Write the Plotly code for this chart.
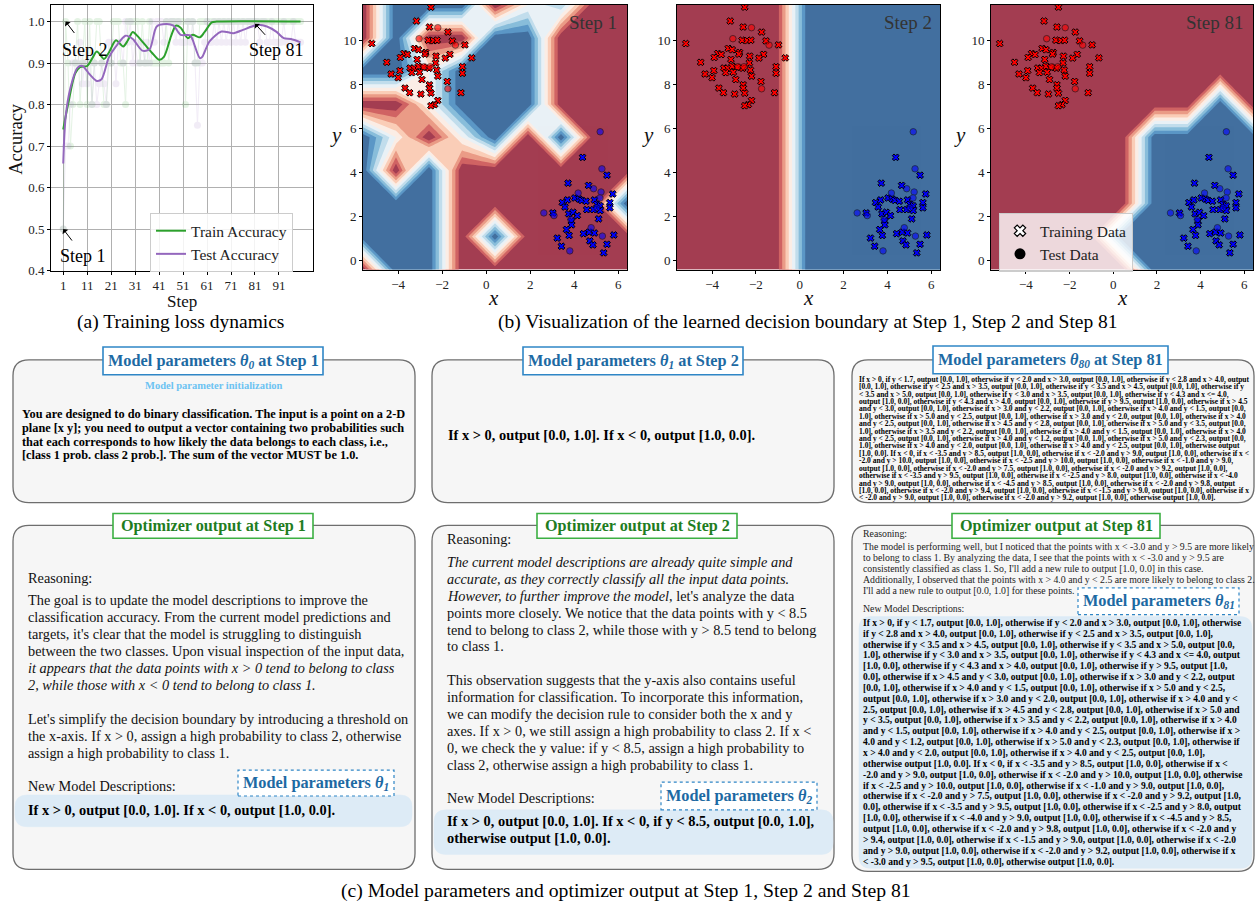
import plotly.graph_objects as go

W, H = 1257, 915
SERIF = "Liberation Serif"


def px(x):
    return x / W


def py(y):
    return 1 - y / H


# ------------------------------------------------------------------ data: accuracy
steps = list(range(1, 101))
train_raw = [
    0.5, 1.0, 0.9, 0.7, 0.8, 0.9, 1.0, 0.8, 0.9, 1.0,
    0.8, 1.0, 0.8, 0.9, 1.0, 1.0, 0.9, 0.8, 0.8, 0.9,
    0.9, 1.0, 1.0, 1.0, 0.9, 0.9, 0.8, 1.0, 1.0, 1.0,
    1.0, 1.0, 0.9, 1.0, 0.9, 0.9, 1.0, 0.9, 0.9, 0.9,
    0.9, 0.9, 0.9, 1.0, 0.9, 1.0, 1.0, 1.0, 1.0, 1.0,
    1.0, 0.8, 1.0, 1.0, 1.0, 0.9, 0.9, 1.0, 1.0, 1.0,
    1.0, 1.0, 1.0, 1.0, 1.0, 1.0, 1.0, 1.0, 1.0, 1.0,
    1.0, 1.0, 1.0, 1.0, 1.0, 1.0, 1.0, 1.0, 1.0, 1.0,
    1.0, 1.0, 1.0, 1.0, 1.0, 1.0, 1.0, 1.0, 1.0, 1.0,
    1.0, 1.0, 1.0, 1.0, 1.0, 1.0, 1.0, 1.0, 1.0, 1.0,
]
test_raw = [
    0.5, 0.7, 0.7, 0.8, 0.9, 0.9, 0.9, 0.95, 0.85, 0.9,
    0.85, 0.9, 0.8, 0.9, 0.8, 0.85, 0.9, 0.85, 0.8, 0.95,
    0.9, 0.95, 0.85, 0.95, 0.95, 0.9, 1.0, 0.95, 1.0, 0.9,
    0.95, 0.9, 0.9, 0.95, 0.9, 0.95, 0.9, 1.0, 0.95, 1.0,
    1.0, 1.0, 0.95, 1.0, 1.0, 1.0, 1.0, 0.95, 1.0, 0.95,
    0.95, 0.95, 1.0, 0.95, 1.0, 0.9, 0.75, 0.9, 0.9, 0.95,
    1.0, 0.95, 0.95, 1.0, 0.95, 1.0, 0.95, 1.0, 0.95, 1.0,
    0.95, 1.0, 0.95, 1.0, 0.95, 1.0, 0.95, 1.0, 1.0, 1.0,
    1.0, 1.0, 0.95, 1.0, 1.0, 0.95, 0.95, 1.0, 0.95, 0.95,
    0.95, 0.95, 1.0, 0.95, 0.95, 0.95, 1.0, 0.95, 0.95, 0.95,
]
train_smooth_steps = [1, 3, 6, 8, 11, 13, 15, 18, 20, 23, 26, 28, 30, 32, 35, 38, 41, 43,
                      46, 48, 50, 53, 55, 58, 60, 63, 65, 100]
train_smooth = [0.74, 0.80, 0.875, 0.89, 0.893, 0.91, 0.928, 0.91, 0.925, 0.955, 0.94,
                0.955, 0.975, 0.965, 0.945, 0.925, 0.908, 0.915, 0.965, 0.99, 0.985,
                0.96, 0.968, 0.962, 0.975, 0.998, 1.0, 1.0]
test_smooth_steps = [1, 2, 4, 7, 9, 12, 15, 17, 20, 23, 27, 30, 34, 37, 40, 44, 47, 50,
                     54, 55, 58, 59, 62, 67, 72, 76, 82, 86, 90, 93, 96, 100]
test_smooth = [0.658, 0.77, 0.84, 0.889, 0.893, 0.873, 0.857, 0.861, 0.913, 0.94, 0.966,
               0.958, 0.93, 0.933, 0.988, 0.994, 0.99, 0.968, 0.967, 0.956, 0.912, 0.915,
               0.952, 0.976, 0.972, 0.98, 0.992, 0.988, 0.975, 0.96, 0.958, 0.95]
acc_ticks = [1, 11, 21, 31, 41, 51, 61, 71, 81, 91]
acc_yticks = [0.4, 0.5, 0.6, 0.7, 0.8, 0.9, 1.0]

# ------------------------------------------------------------------ data: decision boundaries
grid_x = [-5.6, -4.1, -2.6, -1.1, 0.4, 1.9, 3.4, 4.9, 6.4]
grid_y = [-0.4, 1.1, 2.6, 4.1, 5.6, 7.1, 8.6, 10.1, 11.6]
# predicted probability of class 2 on the grid (rows = grid_y, cols = grid_x)
z_step1 = [
    [0, 1, 1, 0, 0, 0, 0, 0, 0],
    [1, 1, 1, 0, 1, 0, 0, 0, 0],
    [1, 1, 1, 0, 0, 0, 0, 0, 1],
    [1, 0, 1, 0, 0, 0, 0, 0, 0],
    [1, 0.5, 0, 0.5, 1, 0, 1, 0, 0],
    [0, 0, 0.5, 1, 1, 1, 0, 0, 0],
    [1, 1, 0.5, 1, 1, 1, 0, 0, 0],
    [0, 1, 0, 0, 1, 1, 0, 0, 0],
    [0, 1, 1, 1, 0, 0.5, 0.7, 0, 0],
]
z_step2 = [
    [0, 0, 0, 0, 1, 1, 1, 1, 1],
    [0, 0, 0, 0, 1, 1, 1, 1, 1],
    [0, 0, 0, 0, 1, 1, 1, 1, 1],
    [0, 0, 0, 0, 1, 1, 1, 1, 1],
    [0, 0, 0, 0, 1, 1, 1, 1, 1],
    [0, 0, 0, 0, 1, 1, 1, 1, 1],
    [0, 0, 0, 0, 1, 1, 1, 1, 1],
    [0, 0, 0, 0, 1, 1, 1, 1, 1],
    [0, 0, 0, 0, 1, 1, 1, 1, 1],
]
z_step81 = [
    [0, 0, 0, 0, 0, 1, 1, 1, 1],
    [0, 0, 0, 0, 1, 1, 1, 1, 1],
    [0, 0, 0, 0, 0, 1, 1, 1, 1],
    [0, 0, 0, 0, 0, 1, 1, 1, 1],
    [0, 0, 0, 0, 0, 1, 1, 1, 1],
    [0, 0, 0, 0, 0, 0, 0, 1, 0],
    [0, 0, 0, 0, 0, 0, 0, 0, 0],
    [0, 0, 0, 0, 0, 0, 0, 0, 0],
    [0, 0, 0, 0, 0, 0, 0, 0, 0],
]
dec_xticks = [-4, -2, 0, 2, 4, 6]
dec_xticktext = ["\u22124", "\u22122", "0", "2", "4", "6"]
dec_yticks = [0, 2, 4, 6, 8, 10]

red_train_x = [-5.2, -2.51, -3.17, -2.58, -1.74, -2.63, -2.4, -2.23, -1.54, -0.97, -3.26,
               -3.08, -3.74, -3.58, -3.9, -2.75, -2.78, -2.28, -1.65, -1.86, -0.66, -4.52,
               -3.14, -2.3, -3.46, -3.28, -3.08, -2.86, -2.6, -1.08, -3.92, -2.25, -3.03,
               -3.38, -4.32, -1.08, -4.0, -2.2, -2.92, -1.77, -2.58, -2.58, -3.69, -3.48,
               -2.97, -2.51, -1.15, -2.2, -2.35, -2.51]
red_train_y = [9.85, 11.5, 10.87, 10.6, 10.37, 10.0, 9.98, 10.0, 9.97, 9.79, 9.63, 9.57,
               9.4, 9.35, 9.22, 9.45, 9.37, 9.28, 9.36, 9.19, 9.2, 9.0, 9.13, 8.97, 8.74,
               8.73, 8.82, 8.77, 8.73, 8.8, 8.62, 8.65, 8.55, 8.53, 8.47, 8.5, 8.3, 8.37,
               8.22, 8.13, 7.98, 7.83, 7.83, 7.62, 7.56, 7.6, 7.62, 7.27, 7.08, 7.03]
red_test_x = [-3.05, -2.2, -1.4, -2.82, -2.54, -1.74]
red_test_y = [10.07, 10.57, 9.78, 8.8, 8.8, 7.8]
blue_train_x = [4.38, 5.49, 3.72, 4.65, 5.75, 3.46, 3.69, 4.03, 4.22, 4.34, 4.54, 4.92,
                5.03, 5.18, 5.62, 5.62, 5.18, 4.57, 4.88, 3.58, 3.03, 3.75, 3.95, 4.14,
                5.11, 3.88, 3.88, 3.65, 3.77, 3.23, 4.42, 4.68, 4.92, 4.71, 4.85, 5.8,
                5.49, 3.42, 5.34]
blue_train_y = [4.69, 3.88, 3.52, 3.42, 3.03, 2.64, 2.76, 2.85, 2.8, 2.74, 2.7, 2.76,
                2.56, 2.49, 2.64, 2.4, 2.28, 2.32, 2.32, 2.44, 2.17, 2.13, 2.2, 2.05, 1.9,
                1.8, 1.63, 1.42, 1.15, 1.03, 1.23, 1.3, 1.26, 0.9, 0.72, 1.17, 0.75, 0.66,
                0.36]
blue_test_x = [5.18, 5.26, 5.22, 4.88, 4.18, 5.17, 2.62, 3.08, 3.85, 4.77, 5.28, 3.8, 5.03]
blue_test_y = [5.85, 4.17, 3.12, 3.27, 3.07, 2.85, 2.17, 2.05, 1.87, 1.5, 1.12, 0.45, 2.4]

# ------------------------------------------------------------------ data: text
box1_lines = [
    "You are designed to do binary classification. The input is a point on a 2-D",
    "plane [x y]; you need to output a vector containing two probabilities such",
    "that each corresponds to how likely the data belongs to each class, i.e.,",
    "[class 1 prob. class 2 prob.]. The sum of the vector MUST be 1.0.",
]
box2_line = "If x > 0, output [0.0, 1.0]. If x < 0, output [1.0, 0.0]."
box3_lines = [
    "If x > 0, if y < 1.7, output [0.0, 1.0], otherwise if y < 2.0 and x > 3.0, output [0.0, 1.0], otherwise if y < 2.8 and x > 4.0, output",
    "[0.0, 1.0], otherwise if y < 2.5 and x > 3.5, output [0.0, 1.0], otherwise if y < 3.5 and x > 4.5, output [0.0, 1.0], otherwise if y",
    "< 3.5 and x > 5.0, output [0.0, 1.0], otherwise if y < 3.0 and x > 3.5, output [0.0, 1.0], otherwise if y < 4.3 and x <= 4.0,",
    "output [1.0, 0.0], otherwise if y < 4.3 and x > 4.0, output [0.0, 1.0], otherwise if y > 9.5, output [1.0, 0.0], otherwise if x > 4.5",
    "and y < 3.0, output [0.0, 1.0], otherwise if x > 3.0 and y < 2.2, output [0.0, 1.0], otherwise if x > 4.0 and y < 1.5, output [0.0,",
    "1.0], otherwise if x > 5.0 and y < 2.5, output [0.0, 1.0], otherwise if x > 3.0 and y < 2.0, output [0.0, 1.0], otherwise if x > 4.0",
    "and y < 2.5, output [0.0, 1.0], otherwise if x > 4.5 and y < 2.8, output [0.0, 1.0], otherwise if x > 5.0 and y < 3.5, output [0.0,",
    "1.0], otherwise if x > 3.5 and y < 2.2, output [0.0, 1.0], otherwise if x > 4.0 and y < 1.5, output [0.0, 1.0], otherwise if x > 4.0",
    "and y < 2.5, output [0.0, 1.0], otherwise if x > 4.0 and y < 1.2, output [0.0, 1.0], otherwise if x > 5.0 and y < 2.3, output [0.0,",
    "1.0], otherwise if x > 4.0 and y < 2.0, output [0.0, 1.0], otherwise if x > 4.0 and y < 2.5, output [0.0, 1.0], otherwise output",
    "[1.0, 0.0]. If x < 0, if x < -3.5 and y > 8.5, output [1.0, 0.0], otherwise if x < -2.0 and y > 9.0, output [1.0, 0.0], otherwise if x <",
    "-2.0 and y > 10.0, output [1.0, 0.0], otherwise if x < -2.5 and y > 10.0, output [1.0, 0.0], otherwise if x < -1.0 and y > 9.0,",
    "output [1.0, 0.0], otherwise if x < -2.0 and y > 7.5, output [1.0, 0.0], otherwise if x < -2.0 and y > 9.2, output [1.0, 0.0],",
    "otherwise if x < -3.5 and y > 9.5, output [1.0, 0.0], otherwise if x < -2.5 and y > 8.0, output [1.0, 0.0], otherwise if x < -4.0",
    "and y > 9.0, output [1.0, 0.0], otherwise if x < -4.5 and y > 8.5, output [1.0, 0.0], otherwise if x < -2.0 and y > 9.8, output",
    "[1.0, 0.0], otherwise if x < -2.0 and y > 9.4, output [1.0, 0.0], otherwise if x < -1.5 and y > 9.0, output [1.0, 0.0], otherwise if x",
    "< -2.0 and y > 9.0, output [1.0, 0.0], otherwise if x < -2.0 and y > 9.2, output [1.0, 0.0], otherwise output [1.0, 0.0].",
]
# (text, italic)
box4_lines = [
    ("The goal is to update the model descriptions to improve the", False),
    ("classification accuracy. From the current model predictions and", False),
    ("targets, it's clear that the model is struggling to distinguish", False),
    ("between the two classes. Upon visual inspection of the input data,", False),
    ("it appears that the data points with x > 0 tend to belong to class", True),
    ("2, while those with x < 0 tend to belong to class 1.", True),
    ("", False),
    ("Let's simplify the decision boundary by introducing a threshold on", False),
    ("the x-axis. If x > 0, assign a high probability to class 2, otherwise", False),
    ("assign a high probability to class 1.", False),
]
box4_new = "If x > 0, output [0.0, 1.0]. If x < 0, output [1.0, 0.0]."
box5_lines = [
    [("The current model descriptions are already quite simple and", True)],
    [("accurate, as they correctly classify all the input data points.", True)],
    [("However, to further improve the model", True), (", let's analyze the data", False)],
    [("points more closely. We notice that the data points with y < 8.5", False)],
    [("tend to belong to class 2, while those with y > 8.5 tend to belong", False)],
    [("to class 1.", False)],
    [("", False)],
    [("This observation suggests that the y-axis also contains useful", False)],
    [("information for classification. To incorporate this information,", False)],
    [("we can modify the decision rule to consider both the x and y", False)],
    [("axes. If x > 0, we still assign a high probability to class 2. If x <", False)],
    [("0, we check the y value: if y < 8.5, assign a high probability to", False)],
    [("class 2, otherwise assign a high probability to class 1.", False)],
]
box5_new = [
    "If x > 0, output [0.0, 1.0]. If x < 0, if y < 8.5, output [0.0, 1.0],",
    "otherwise output [1.0, 0.0].",
]
box6_reason = [
    "The model is performing well, but I noticed that the points with x < -3.0 and y > 9.5 are more likely",
    "to belong to class 1. By analyzing the data, I see that the points with x < -3.0 and y > 9.5 are",
    "consistently classified as class 1. So, I'll add a new rule to output [1.0, 0.0] in this case.",
    "Additionally, I observed that the points with x > 4.0 and y < 2.5 are more likely to belong to class 2.",
    "I'll add a new rule to output [0.0, 1.0] for these points.",
]
box6_new = [
    "If x > 0, if y < 1.7, output [0.0, 1.0], otherwise if y < 2.0 and x > 3.0, output [0.0, 1.0], otherwise",
    "if y < 2.8 and x > 4.0, output [0.0, 1.0], otherwise if y < 2.5 and x > 3.5, output [0.0, 1.0],",
    "otherwise if y < 3.5 and x > 4.5, output [0.0, 1.0], otherwise if y < 3.5 and x > 5.0, output [0.0,",
    "1.0], otherwise if y < 3.0 and x > 3.5, output [0.0, 1.0], otherwise if y < 4.3 and x <= 4.0, output",
    "[1.0, 0.0], otherwise if y < 4.3 and x > 4.0, output [0.0, 1.0], otherwise if y > 9.5, output [1.0,",
    "0.0], otherwise if x > 4.5 and y < 3.0, output [0.0, 1.0], otherwise if x > 3.0 and y < 2.2, output",
    "[0.0, 1.0], otherwise if x > 4.0 and y < 1.5, output [0.0, 1.0], otherwise if x > 5.0 and y < 2.5,",
    "output [0.0, 1.0], otherwise if x > 3.0 and y < 2.0, output [0.0, 1.0], otherwise if x > 4.0 and y <",
    "2.5, output [0.0, 1.0], otherwise if x > 4.5 and y < 2.8, output [0.0, 1.0], otherwise if x > 5.0 and",
    "y < 3.5, output [0.0, 1.0], otherwise if x > 3.5 and y < 2.2, output [0.0, 1.0], otherwise if x > 4.0",
    "and y < 1.5, output [0.0, 1.0], otherwise if x > 4.0 and y < 2.5, output [0.0, 1.0], otherwise if x >",
    "4.0 and y < 1.2, output [0.0, 1.0], otherwise if x > 5.0 and y < 2.3, output [0.0, 1.0], otherwise if",
    "x > 4.0 and y < 2.0, output [0.0, 1.0], otherwise if x > 4.0 and y < 2.5, output [0.0, 1.0],",
    "otherwise output [1.0, 0.0]. If x < 0, if x < -3.5 and y > 8.5, output [1.0, 0.0], otherwise if x <",
    "-2.0 and y > 9.0, output [1.0, 0.0], otherwise if x < -2.0 and y > 10.0, output [1.0, 0.0], otherwise",
    "if x < -2.5 and y > 10.0, output [1.0, 0.0], otherwise if x < -1.0 and y > 9.0, output [1.0, 0.0],",
    "otherwise if x < -2.0 and y > 7.5, output [1.0, 0.0], otherwise if x < -2.0 and y > 9.2, output [1.0,",
    "0.0], otherwise if x < -3.5 and y > 9.5, output [1.0, 0.0], otherwise if x < -2.5 and y > 8.0, output",
    "[1.0, 0.0], otherwise if x < -4.0 and y > 9.0, output [1.0, 0.0], otherwise if x < -4.5 and y > 8.5,",
    "output [1.0, 0.0], otherwise if x < -2.0 and y > 9.8, output [1.0, 0.0], otherwise if x < -2.0 and y",
    "> 9.4, output [1.0, 0.0], otherwise if x < -1.5 and y > 9.0, output [1.0, 0.0], otherwise if x < -2.0",
    "and y > 9.0, output [1.0, 0.0], otherwise if x < -2.0 and y > 9.2, output [1.0, 0.0], otherwise if x",
    "< -3.0 and y > 9.5, output [1.0, 0.0], otherwise output [1.0, 0.0].",
]

# ------------------------------------------------------------------ styles
GREEN = "#2ca02c"
PURPLE = "#9467bd"
BLUE_T = "#1d6aa3"
BLUE_B = "#2f86c6"
GREEN_T = "#1f7d1f"
GREEN_B = "#3cb043"
RDBU = [(103, 0, 31), (178, 24, 43), (214, 96, 77), (244, 165, 130), (253, 219, 199),
        (247, 247, 247), (209, 229, 240), (146, 197, 222), (67, 147, 195), (33, 102, 172),
        (5, 48, 97)]


def band_color(k):
    a, b = RDBU[k], RDBU[k + 1]
    c = [0.5 * (a[i] + b[i]) for i in range(3)]
    c = [round(0.8 * v + 0.2 * 255) for v in c]
    return "rgb(%d,%d,%d)" % tuple(c)


band_scale = [[k / 9, band_color(k)] for k in range(10)]


def esc(s):
    return s.replace("<", "&lt;").replace(">", "&gt;")


fig = go.Figure()

# ------------------------------------------------------------------ accuracy plot
fig.add_trace(go.Scatter(x=steps, y=train_raw, mode="lines+markers", showlegend=False,
                         line=dict(color=GREEN, width=1), marker=dict(size=7, color=GREEN),
                         opacity=0.12, xaxis="x", yaxis="y", hoverinfo="skip"))
fig.add_trace(go.Scatter(x=steps, y=test_raw, mode="lines+markers", showlegend=False,
                         line=dict(color=PURPLE, width=1), marker=dict(size=7, color=PURPLE),
                         opacity=0.12, xaxis="x", yaxis="y", hoverinfo="skip"))
fig.add_trace(go.Scatter(x=train_smooth_steps, y=train_smooth, mode="lines", name="Train Accuracy",
                         line=dict(color=GREEN, width=2, shape="spline", smoothing=0.8),
                         xaxis="x", yaxis="y", legend="legend"))
fig.add_trace(go.Scatter(x=test_smooth_steps, y=test_smooth, mode="lines", name="Test Accuracy",
                         line=dict(color=PURPLE, width=2, shape="spline", smoothing=0.8),
                         xaxis="x", yaxis="y", legend="legend"))

# ------------------------------------------------------------------ decision boundary plots
panels = [("x2", "y2", z_step1), ("x3", "y3", z_step2), ("x4", "y4", z_step81)]
for xa, ya, z in panels:
    fig.add_trace(go.Contour(x=grid_x, y=grid_y, z=z, xaxis=xa, yaxis=ya, autocontour=False,
                             contours=dict(start=0.1, end=0.9, size=0.1, coloring="fill",
                                           showlines=False),
                             line=dict(width=0, smoothing=0), colorscale=band_scale,
                             showscale=False, hoverinfo="skip"))
    fig.add_trace(go.Scatter(x=red_train_x, y=red_train_y, mode="markers", showlegend=False,
                             marker=dict(symbol="x", size=6, color="#ff0000",
                                         line=dict(color="black", width=1)),
                             xaxis=xa, yaxis=ya, hoverinfo="skip"))
    fig.add_trace(go.Scatter(x=blue_train_x, y=blue_train_y, mode="markers", showlegend=False,
                             marker=dict(symbol="x", size=6, color="#0000ff",
                                         line=dict(color="black", width=1)),
                             xaxis=xa, yaxis=ya, hoverinfo="skip"))
    fig.add_trace(go.Scatter(x=red_test_x, y=red_test_y, mode="markers", showlegend=False,
                             marker=dict(symbol="circle", size=6.5, color="#ff0000",
                                         line=dict(color="black", width=0.8)),
                             opacity=0.6, xaxis=xa, yaxis=ya, hoverinfo="skip"))
    fig.add_trace(go.Scatter(x=blue_test_x, y=blue_test_y, mode="markers", showlegend=False,
                             marker=dict(symbol="circle", size=6.5, color="#0000ff",
                                         line=dict(color="black", width=0.8)),
                             opacity=0.6, xaxis=xa, yaxis=ya, hoverinfo="skip"))

# legend entries for step-81 panel
fig.add_trace(go.Scatter(x=[None], y=[None], mode="markers", name="Training Data",
                         marker=dict(symbol="x", size=10, color="white",
                                     line=dict(color="black", width=1.2)),
                         xaxis="x4", yaxis="y4", legend="legend2"))
fig.add_trace(go.Scatter(x=[None], y=[None], mode="markers", name="Test Data",
                         marker=dict(symbol="circle", size=11, color="black"),
                         xaxis="x4", yaxis="y4", legend="legend2"))

# ------------------------------------------------------------------ axes
tickfont = dict(family=SERIF, size=13, color="#222")
common = dict(showline=True, mirror=True, linecolor="black", linewidth=1, ticks="outside",
              ticklen=3, tickcolor="black", tickfont=tickfont, zeroline=False)

layout_axes = dict(
    xaxis=dict(domain=[px(51), px(313)], range=[-4.1, 105.2], tickvals=acc_ticks,
               showgrid=True, gridcolor="#b0b0b0", gridwidth=1, anchor="y", **common),
    yaxis=dict(domain=[py(273), py(5)], range=[0.4, 1.04], tickvals=acc_yticks,
               ticktext=["%.1f" % v for v in acc_yticks],
               showgrid=True, gridcolor="#b0b0b0", gridwidth=1, anchor="x", **common),
)
dec_domains = [(363, 627), (677, 940), (991, 1253)]
for n, (a, b) in zip([2, 3, 4], dec_domains):
    layout_axes["xaxis%d" % n] = dict(domain=[px(a), px(b)], range=[-5.6, 6.4],
                                      tickvals=dec_xticks, ticktext=dec_xticktext,
                                      showgrid=False, anchor="y%d" % n, **common)
    layout_axes["yaxis%d" % n] = dict(domain=[py(272), py(5)], range=[-0.4, 11.6],
                                      tickvals=dec_yticks, showgrid=False, anchor="x%d" % n,
                                      **common)

# ------------------------------------------------------------------ shapes
shapes = []


def rrect(x0, y0, x1, y1, r, fill, line_color, lw, dash=None):
    p = [
        "M %f,%f" % (px(x0 + r), py(y0)),
        "L %f,%f" % (px(x1 - r), py(y0)),
        "Q %f,%f %f,%f" % (px(x1), py(y0), px(x1), py(y0 + r)),
        "L %f,%f" % (px(x1), py(y1 - r)),
        "Q %f,%f %f,%f" % (px(x1), py(y1), px(x1 - r), py(y1)),
        "L %f,%f" % (px(x0 + r), py(y1)),
        "Q %f,%f %f,%f" % (px(x0), py(y1), px(x0), py(y1 - r)),
        "L %f,%f" % (px(x0), py(y0 + r)),
        "Q %f,%f %f,%f" % (px(x0), py(y0), px(x0 + r), py(y0)),
        "Z",
    ]
    ln = dict(color=line_color, width=lw)
    if dash:
        ln["dash"] = dash
    shapes.append(dict(type="path", xref="paper", yref="paper", path=" ".join(p),
                       fillcolor=fill, line=ln, layer="above"))


def rect(x0, y0, x1, y1, fill, line_color, lw, dash=None):
    ln = dict(color=line_color, width=lw)
    if dash:
        ln["dash"] = dash
    shapes.append(dict(type="rect", xref="paper", yref="paper", x0=px(x0), x1=px(x1),
                       y0=py(y1), y1=py(y0), fillcolor=fill, line=ln, layer="above"))


BOX_FILL = "#f6f6f6"
BOX_LINE = "#6e6e6e"
HL_FILL = "#ddebf6"

# top row
rrect(13, 363, 415, 507, 16, BOX_FILL, BOX_LINE, 1.3)
rect(103, 350, 323, 378, "white", BLUE_B, 1.6)
rrect(432, 363, 834, 507, 16, BOX_FILL, BOX_LINE, 1.3)
rect(523, 350, 743, 378, "white", BLUE_B, 1.6)
rrect(852, 363, 1254, 507, 16, BOX_FILL, BOX_LINE, 1.3)
rect(933, 349, 1168, 377, "white", BLUE_B, 1.6)
# bottom row
rrect(13, 530, 415, 877, 16, BOX_FILL, BOX_LINE, 1.3)
rect(113, 518, 313, 543, "white", GREEN_B, 1.6)
rrect(15, 802, 412, 834, 12, HL_FILL, HL_FILL, 0.5)
rect(238, 777, 394, 803, "white", BLUE_B, 1.2, "dot")
rrect(432, 530, 834, 877, 16, BOX_FILL, BOX_LINE, 1.3)
rect(537, 518, 737, 543, "white", GREEN_B, 1.6)
rrect(434, 817, 833, 862, 12, HL_FILL, HL_FILL, 0.5)
rect(661, 789, 817, 817, "white", BLUE_B, 1.2, "dot")
rrect(852, 530, 1254, 879, 16, BOX_FILL, BOX_LINE, 1.3)
rect(952, 518, 1160, 543, "white", GREEN_B, 1.6)
rrect(859, 622, 1252, 876, 12, HL_FILL, HL_FILL, 0.5)
rect(1078, 593, 1239, 620, "white", BLUE_B, 1.2, "dot")

# ------------------------------------------------------------------ annotations
ann = []


def txt(x, y, s, size, color="black", anchor="left", angle=0):
    ann.append(dict(x=px(x), y=py(y), xref="paper", yref="paper", text=s, showarrow=False,
                    xanchor=anchor, yanchor="middle", textangle=angle,
                    font=dict(family=SERIF, size=size, color=color), borderpad=0))


# axis titles
txt(182, 304.5, "Step", 17, "#111", "center")
txt(16, 140, "Accuracy", 18.5, "#111", "center", -90)
for xc, yc in [(493, 336), (808, 648), (1122, 960)]:
    txt(xc, 301, "<i>x</i>", 21, "#111", "center")
    txt(yc, 136, "<i>y</i>", 21, "#111", "center")

# captions
txt(180, 325, "(a) Training loss dynamics", 19.5, anchor="center")
txt(808, 325, "(b) Visualization of the learned decision boundary at Step 1, Step 2 and Step 81",
    19.5, anchor="center")
txt(626, 898, "(c) Model parameters and optimizer output at Step 1, Step 2 and Step 81", 19.7,
    anchor="center")

# panel labels
txt(618, 23, "Step 1", 19, "#333", anchor="right")
txt(933, 23, "Step 2", 19, "#333", anchor="right")
txt(1245, 23, "Step 81", 19, "#333", anchor="right")

# accuracy annotations (arrows + labels)
for (hx, hy, tx, ty) in [(1, 0.5, 5.9, 0.463), (2, 1.0, 6.9, 0.963), (81, 0.995, 86.5, 0.96)]:
    ann.append(dict(x=hx, y=hy, ax=tx, ay=ty, xref="x", yref="y", axref="x", ayref="y",
                    text=" ", showarrow=True, arrowhead=1, arrowsize=1.2, arrowwidth=1,
                    arrowcolor="black"))
ann.append(dict(x=9.1, y=0.436, xref="x", yref="y", text="Step 1", showarrow=False,
                font=dict(family=SERIF, size=18, color="black")))
ann.append(dict(x=10, y=0.932, xref="x", yref="y", text="Step 2", showarrow=False,
                font=dict(family=SERIF, size=18, color="black")))
ann.append(dict(x=90.1, y=0.932, xref="x", yref="y", text="Step 81", showarrow=False,
                font=dict(family=SERIF, size=18, color="black")))

# box titles
txt(213, 364, "<b>Model parameters <i>θ<sub>0</sub></i> at Step 1</b>", 16.3, BLUE_T, "center")
txt(633, 364, "<b>Model parameters <i>θ<sub>1</sub></i> at Step 2</b>", 16.3, BLUE_T, "center")
txt(1050.5, 363, "<b>Model parameters <i>θ<sub>80</sub></i> at Step 81</b>", 16.3, BLUE_T, "center")
txt(213, 530.5, "<b>Optimizer output at Step 1</b>", 16.2, GREEN_T, "center")
txt(637, 530.5, "<b>Optimizer output at Step 2</b>", 16.2, GREEN_T, "center")
txt(1056, 530.5, "<b>Optimizer output at Step 81</b>", 16.2, GREEN_T, "center")

# box 1
txt(214, 389, "<b>Model parameter initialization</b>", 10.5, "#6cc3f2", "center")
for i, s in enumerate(box1_lines):
    txt(21, 418 + i * 13.7, "<b>" + esc(s) + "</b>", 12.3)
# box 2
txt(447, 439, "<b>" + esc(box2_line) + "</b>", 14.4)
# box 3
for i, s in enumerate(box3_lines):
    txt(858, 382.7 + i * 7.47, "<b>" + esc(s) + "</b>", 7.5)

# box 4
txt(27, 583.3, "Reasoning:", 14.3, "#111")
for i, (s, it) in enumerate(box4_lines):
    if s:
        t = esc(s)
        txt(27, 605.7 + i * 17.1, "<i>" + t + "</i>" if it else t, 14.3, "#111")
txt(27, 793.3, "New Model Descriptions:", 14.3, "#111")
txt(316, 790, "<b>Model parameters <i>θ<sub>1</sub></i></b>", 16.3, BLUE_T, "center")
txt(27, 817.5, "<b>" + esc(box4_new) + "</b>", 14.4)

# box 5
txt(446, 543.3, "Reasoning:", 14.3, "#111")
for i, segs in enumerate(box5_lines):
    t = "".join(("<i>" + esc(s) + "</i>") if it else esc(s) for s, it in segs)
    if t:
        txt(446, 566.7 + i * 17.1, t, 14.3, "#111")
txt(446, 805, "New Model Descriptions:", 14.3, "#111")
txt(739, 803, "<b>Model parameters <i>θ<sub>2</sub></i></b>", 16.3, BLUE_T, "center")
for i, s in enumerate(box5_new):
    txt(446, 828 + i * 17.2, "<b>" + esc(s) + "</b>", 14.4)

# box 6
txt(862, 538.3, "Reasoning:", 9.8, "#222")
for i, s in enumerate(box6_reason):
    txt(862, 551.7 + i * 11.1, esc(s), 9.8, "#222")
txt(862, 614.3, "New Model Descriptions:", 9.8, "#222")
txt(1158.5, 606.5, "<b>Model parameters <i>θ<sub>81</sub></i></b>", 16.3, BLUE_T, "center")
for i, s in enumerate(box6_new):
    txt(862, 628.3 + i * 10.95, "<b>" + esc(s) + "</b>", 9.5)

fig.update_layout(
    width=W, height=H, margin=dict(l=0, r=0, t=0, b=0),
    paper_bgcolor="white", plot_bgcolor="white",
    font=dict(family=SERIF, color="black"),
    shapes=shapes, annotations=ann,
    legend=dict(x=px(150), y=py(215), xanchor="left", yanchor="top",
                bgcolor="rgba(255,255,255,0.85)", bordercolor="#cccccc", borderwidth=1,
                font=dict(family=SERIF, size=15.5, color="#222")),
    legend2=dict(x=px(999), y=py(215), xanchor="left", yanchor="top",
                 bgcolor="rgba(255,255,255,0.8)", bordercolor="#cccccc", borderwidth=1,
                 font=dict(family=SERIF, size=15.5, color="#222")),
    **layout_axes,
)

fig.write_html("out.html", config={"displayModeBar": False},
               post_script="document.body.style.margin='0';document.body.style.padding='0';"
                           "document.body.style.overflow='hidden';")
